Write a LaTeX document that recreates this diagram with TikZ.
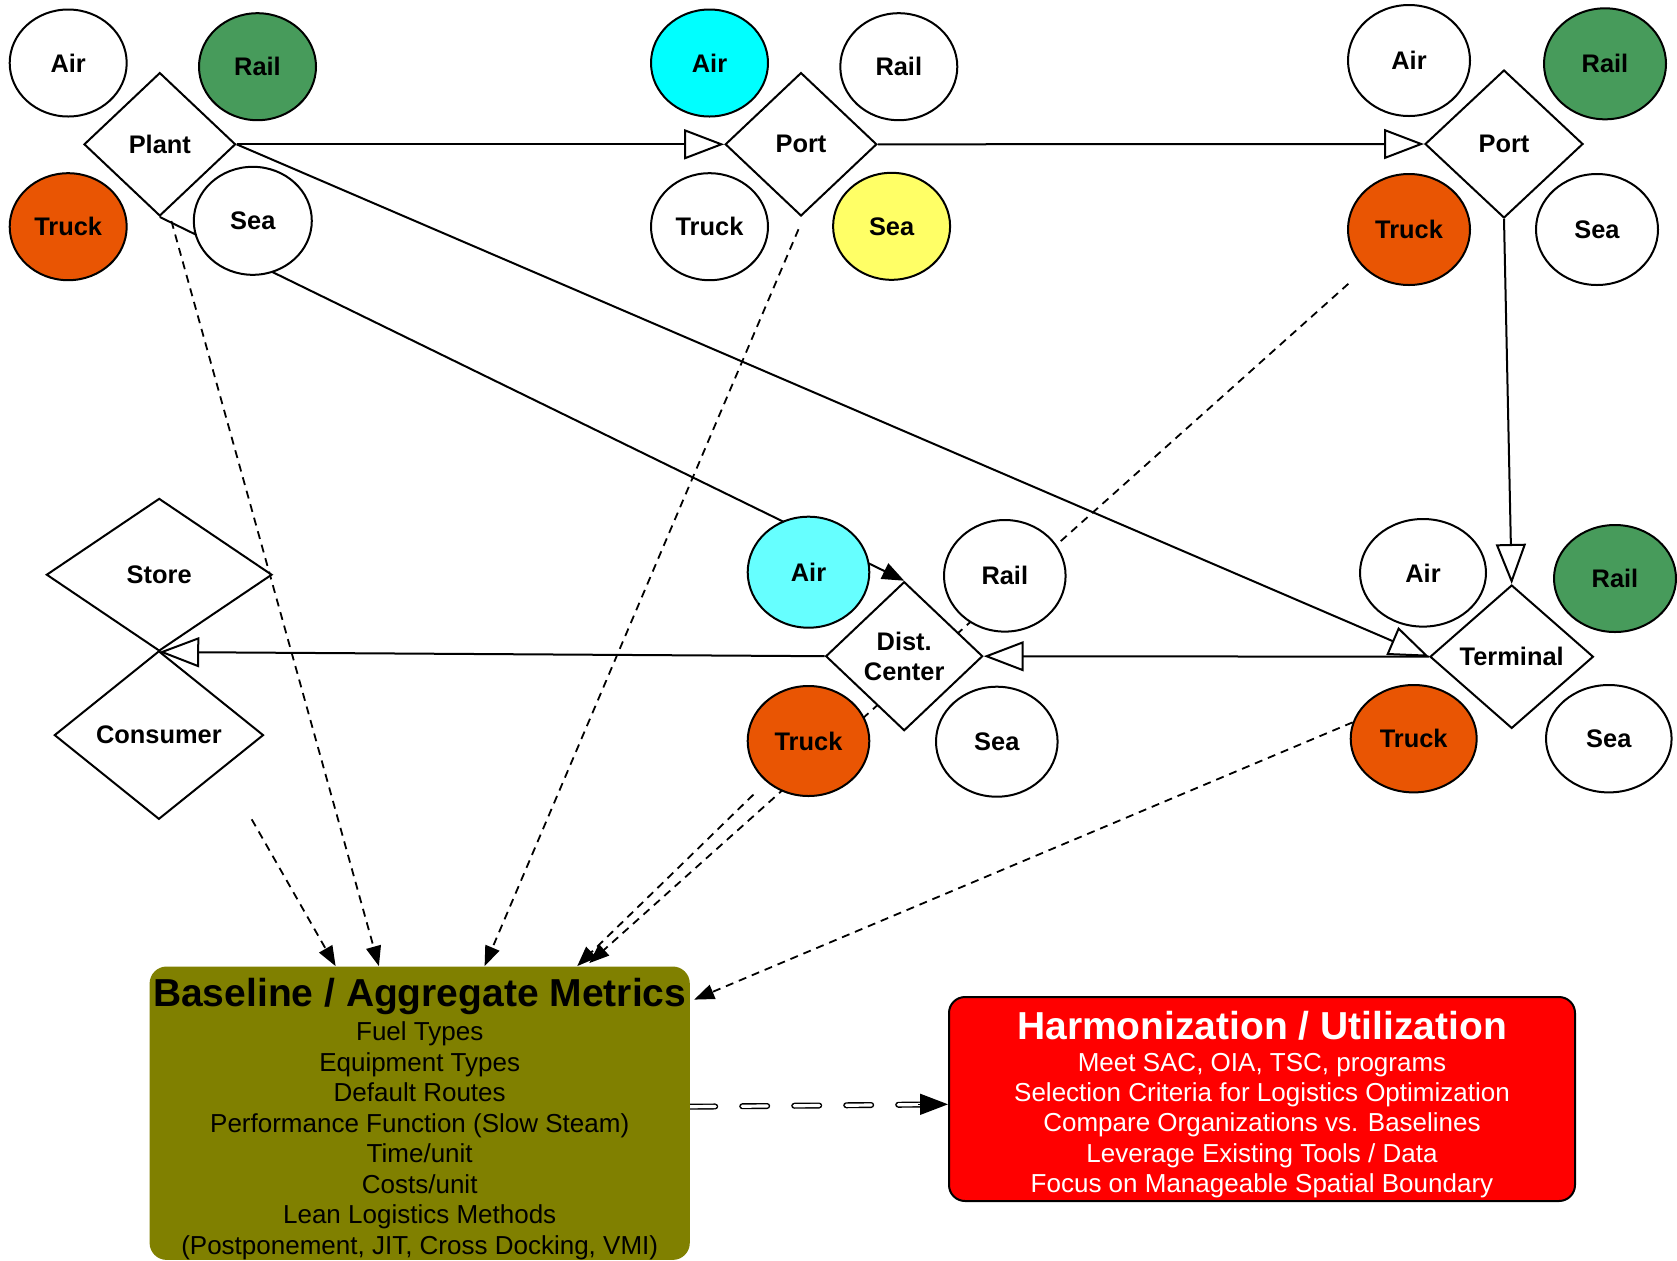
\documentclass[tikz,border=0pt]{standalone}
\usepackage{fontspec}
\setmainfont{Liberation Sans}
\usetikzlibrary{shapes.geometric, arrows.meta, calc, backgrounds}

\definecolor{railgreen}{RGB}{71,155,91}
\definecolor{truckorange}{RGB}{233,85,3}
\definecolor{aircyan}{RGB}{0,255,255}
\definecolor{airlight}{RGB}{102,255,255}
\definecolor{seayellow}{RGB}{255,255,102}
\definecolor{olivebox}{RGB}{128,128,0}
\definecolor{harmred}{RGB}{255,0,0}

\newcommand{\modefont}{\bfseries\fontsize{12.7}{15}\selectfont}
\newcommand{\boxtitlefont}{\bfseries\fontsize{19.5}{21}\selectfont}

\begin{document}
\begin{tikzpicture}[x=0.5pt, y=-0.5pt,
  mode/.style={ellipse, draw, line width=1pt, fill=white, inner sep=0pt, font=\modefont},
  sz/.style 2 args={minimum width=#1, minimum height=#2},
  hub/.style={diamond, draw, line width=1pt, fill=white, inner sep=0pt, align=center, font=\modefont},
  flow/.style={line width=1pt, -{Triangle[open, length=20pt, width=15pt]}},
  feed/.style={line width=1pt, -{Triangle[length=11pt, width=8.5pt]}},
  dep/.style={line width=0.9pt, dash pattern=on 4pt off 3pt, -{Triangle[length=10pt, width=7.5pt]}},
  hollow/.style={line width=0.7pt, double=white, double distance=1.6pt, line cap=round, dash pattern=on 12.5pt off 13.5pt},
  tipsolid/.style={line width=0.8pt, -{Triangle[length=14pt, width=10.5pt]}},
  metricsbox/.style={rectangle, rounded corners=8.5pt, fill=olivebox, draw=none, minimum width=270.1pt, minimum height=146.7pt, inner sep=0pt, align=center, font=\fontsize{13}{15.25}\selectfont},
  harmbox/.style={rectangle, rounded corners=8pt, fill=harmred, draw=black, line width=1pt, minimum width=313pt, minimum height=102pt, inner sep=0pt, align=center, text=white, font=\fontsize{13}{15.2}\selectfont}
]
\useasboundingbox (0,0) rectangle (1677,1260);

% ---- Plant group
\node[hub, sz={75.8pt}{71.7pt}] (Plant) at (159.8,144.3) {Plant};
\node[mode, sz={58.5pt}{53.5pt}] (Air1) at (68.2,63) {Air};
\node[mode, sz={58.5pt}{53.5pt}, fill=railgreen] (Rail1) at (257.5,66.7) {Rail};
\node[mode, sz={58.5pt}{53.5pt}, fill=truckorange] (Truck1) at (68.2,226.7) {Truck};
\node[mode, sz={59pt}{54pt}] (Sea1) at (252.8,220.8) {Sea};

% ---- first Port group
\node[hub, sz={75.8pt}{71.7pt}] (Port1) at (801,144.3) {Port};
\node[mode, sz={58.5pt}{53.5pt}, fill=aircyan] (Air2) at (709.5,63) {Air};
\node[mode, sz={58.5pt}{53.5pt}] (Rail2) at (898.8,66.7) {Rail};
\node[mode, sz={58.5pt}{53.5pt}] (Truck2) at (709.5,226.7) {Truck};
\node[mode, sz={58.5pt}{53.5pt}, fill=seayellow] (Sea2) at (891.6,226.3) {Sea};

% ---- second Port group
\node[hub, sz={79pt}{74pt}] (Port2) at (1504,144) {Port};
\node[mode, sz={61pt}{55.5pt}] (Air3) at (1409,60.5) {Air};
\node[mode, sz={61pt}{55.5pt}, fill=railgreen] (Rail3) at (1605,63.8) {Rail};
\node[mode, sz={61pt}{55.5pt}, fill=truckorange] (Truck3) at (1409,229.5) {Truck};
\node[mode, sz={61pt}{55.5pt}] (Sea3) at (1597,229.5) {Sea};

% ---- Store / Consumer
\node[hub, sz={112.8pt}{76.3pt}] (Store) at (159.2,574.7) {Store};
\node[hub, sz={104.6pt}{84.2pt}] (Consumer) at (158.9,735.1) {Consumer};

% ---- Dist. Center group
\node[hub, sz={78.5pt}{74.5pt}] (Dist) at (904.2,656.2) {Dist.\\Center};
\node[mode, sz={60.8pt}{55.5pt}, fill=airlight] (Air4) at (808.5,572.2) {Air};
\node[mode, sz={60.8pt}{55.8pt}] (Rail4) at (1004.8,575.8) {Rail};
\node[mode, sz={60.8pt}{55pt}, fill=truckorange] (Truck4) at (808.5,741) {Truck};
\node[mode, sz={60.8pt}{55pt}] (Sea4) at (996.8,741.7) {Sea};

% ---- Terminal group
\node[hub, sz={81.7pt}{71.7pt}] (Terminal) at (1511.7,656.7) {Terminal};
\node[mode, sz={63pt}{53.8pt}] (Air5) at (1423,572.8) {Air};
\node[mode, sz={61pt}{53.5pt}, fill=railgreen] (Rail5) at (1615,578.5) {Rail};
\node[mode, sz={63pt}{53.7pt}, fill=truckorange] (Truck5) at (1413.7,738.7) {Truck};
\node[mode, sz={62.8pt}{53.7pt}] (Sea5) at (1608.8,738.7) {Sea};

% ---- boxes
\node[metricsbox] (Metrics) at (419.7,1113.2) {{\boxtitlefont\rule{0pt}{20.2pt}Baseline / Aggregate Metrics}\\[1.75pt]
Fuel Types\\ Equipment Types\\ Default Routes\\ Performance Function (Slow Steam)\\ Time/unit\\ Costs/unit\\ Lean Logistics Methods\\ (Postponement, JIT, Cross Docking, VMI)};

\node[harmbox] (Harm) at (1262,1099) {{\boxtitlefont\rule{0pt}{19.55pt}Harmonization / Utilization}\\[0.8pt]
Meet SAC, OIA, TSC, programs\\ Selection Criteria for Logistics Optimization\\ Compare Organizations vs. Baselines\\ Leverage Existing Tools / Data\\ Focus on Manageable Spatial Boundary};

% ---- free ends
\coordinate (plantOut) at ($(Plant.south)+(11.6,4)$);
\coordinate (portOut) at ($(Port1.south)+(-2.5,12.3)$);
\coordinate (consOut) at ($(Consumer.south)+(92.8,-1)$);
\coordinate (mT1) at ($(Metrics.north west)+(186.4,0)$);
\coordinate (mT2) at ($(Metrics.north west)+(229.7,0)$);
\coordinate (mT3) at ($(Metrics.north west)+(335.4,0)$);
\coordinate (mT4) at ($(Metrics.north west)+(428,0)$);
\coordinate (mT5) at ($(Metrics.north west)+(440,-3)$);
\coordinate (mT6) at ($(Metrics.north east)+(4,33.5)$);
\coordinate (mOut) at ($(Metrics.east)+(0,-6.5)$);
\coordinate (hIn) at ($(Harm.west)+(0,5.3)$);

\begin{scope}[on background layer]
\fill[white] (0,0) rectangle (1677,1260);
% solid flows
\draw[flow] (Plant.east) -- (Port1.west);
\draw[flow] (Port1.east) -- (Port2.west);
\draw[flow] (Port2.south) -- (Terminal.north);
\draw[flow] (Plant.east) -- (Terminal.west);
\draw[flow] (Terminal.west) -- (Dist.east);
\draw[flow] (Dist.west) -- (Store.south);
\draw[feed] (Plant.south) -- (Dist.north);
% dashed feeds into metrics
\draw[dep] (consOut) -- (mT1);
\draw[dep] (plantOut) -- (mT2);
\draw[dep] (portOut) -- (mT3);
\draw[dep, shorten <=9pt] (Truck4) -- (mT4);
\draw[dep, shorten <=11pt] (Truck3) -- (mT5);
\draw[dep] (Truck5.165) -- (mT6);
% metrics to harmonization
\draw[hollow, shorten >=13pt] (mOut) -- (hIn);
\draw[tipsolid] ($(hIn)+(-30,0)$) -- (hIn);
\end{scope}
\end{tikzpicture}
\end{document}
